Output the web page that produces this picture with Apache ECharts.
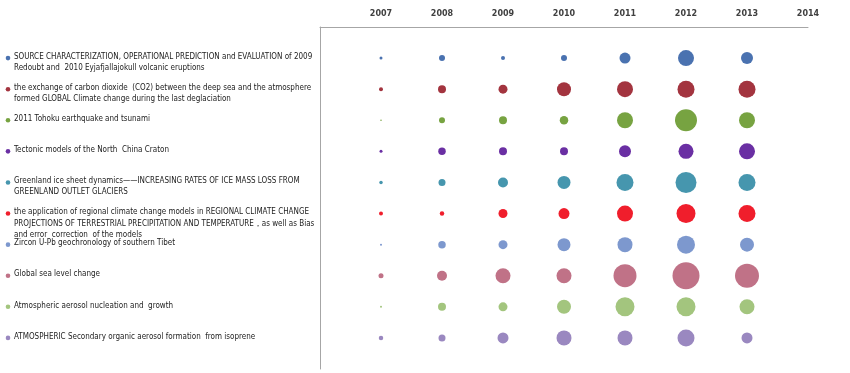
<!DOCTYPE html>
<html><head><meta charset="utf-8">
<script src="https://cdn.jsdelivr.net/npm/echarts@6/dist/echarts.min.js"></script>
<style>html,body{margin:0;padding:0;background:#fff}#c{width:850px;height:373px}</style>
</head><body><div id="c"></div>
<script>
const years = [2007, 2008, 2009, 2010, 2011, 2012, 2013];
const yearTicks = [2007, 2008, 2009, 2010, 2011, 2012, 2013, 2014];
const topics = [
  "SOURCE CHARACTERIZATION, OPERATIONAL PREDICTION and EVALUATION of 2009\nRedoubt and  2010 Eyjafjallajokull volcanic eruptions",
  "the exchange of carbon dioxide  (CO2) between the deep sea and the atmosphere\nformed GLOBAL Climate change during the last deglaciation",
  "2011 Tohoku earthquake and tsunami",
  "Tectonic models of the North  China Craton",
  "Greenland ice sheet dynamics——INCREASING RATES OF ICE MASS LOSS FROM\nGREENLAND OUTLET GLACIERS",
  "the application of regional climate change models in REGIONAL CLIMATE CHANGE\nPROJECTIONS OF TERRESTRIAL PRECIPITATION AND TEMPERATURE，as well as Bias\nand error  correction  of the models",
  "Zircon U-Pb geochronology of southern Tibet",
  "Global sea level change",
  "Atmospheric aerosol nucleation and  growth",
  "ATMOSPHERIC Secondary organic aerosol formation  from isoprene"
];
const colors = ["#4a72b0","#a3343f","#77a341","#6a2fa3","#4696ae","#f01e2c","#7d98ce","#c07287","#a3c57e","#9a88c0"];
// bubble sizes (estimated diameters) per topic, 2007..2013
const s0 = [3, 6, 4, 6, 11, 16, 12];
const s1 = [4, 8, 9, 14, 16, 17, 17];
const s2 = [1.5, 6, 8, 8.5, 16, 22, 16];
const s3 = [3, 7.5, 8, 8, 12, 15, 16];
const s4 = [3.5, 7, 10, 13, 17, 21, 17];
const s5 = [4, 4.5, 9, 11, 16, 19, 17];
const s6 = [2, 7.5, 9, 13, 15, 18, 14];
const s7 = [5, 10, 15, 15, 23, 27, 24];
const s8 = [2, 8, 9, 14, 19, 19, 15];
const s9 = [4.5, 7, 11, 15, 15, 17, 11];
const sizes = [s0, s1, s2, s3, s4, s5, s6, s7, s8, s9];

const chart = echarts.init(document.getElementById('c'));
const series = sizes.map((arr, i) => ({
  type: 'scatter',
  name: topics[i],
  data: arr.map((v, j) => [years[j], i + 1, v]),
  symbolSize: d => d[2],
  itemStyle: { color: colors[i], opacity: 1 },
  silent: true
}));
chart.setOption({
  animation: false,
  grid: { left: 320, right: 42, top: 27, height: 342 },
  xAxis: {
    type: 'value', position: 'top', min: 2006, max: 2014, interval: 1,
    axisLine: { show: true, lineStyle: { color: '#a6a6a6', width: 1 } },
    axisTick: { show: false },
    splitLine: { show: false },
    axisLabel: {
      margin: 9, color: '#404040', fontSize: 8, fontWeight: 'bold', fontFamily: 'DejaVu Sans',
      formatter: v => yearTicks.indexOf(v) >= 0 ? String(v) : ''
    }
  },
  yAxis: {
    type: 'value', inverse: true, min: 0, max: 11,
    axisLine: { show: true, onZero: false, lineStyle: { color: '#a6a6a6', width: 1 } },
    axisTick: { show: false }, axisLabel: { show: false }, splitLine: { show: false }
  },
  series: series
});
const graphics = [];
topics.forEach((t, i) => {
  const y = chart.convertToPixel({ gridIndex: 0 }, [2007, i + 1])[1];
  graphics.push({ type: 'circle', shape: { cx: 8, cy: y, r: 2.3 }, style: { fill: colors[i] }, silent: true });
  graphics.push({ type: 'text', x: 14, y: y - 7, silent: true,
    style: { text: t, font: '8px "Liberation Sans Narrow", "DejaVu Sans Condensed", "Liberation Sans"', fill: '#222', lineHeight: 11.3, verticalAlign: 'top' } });
});
chart.setOption({ graphic: graphics });
</script></body></html>
